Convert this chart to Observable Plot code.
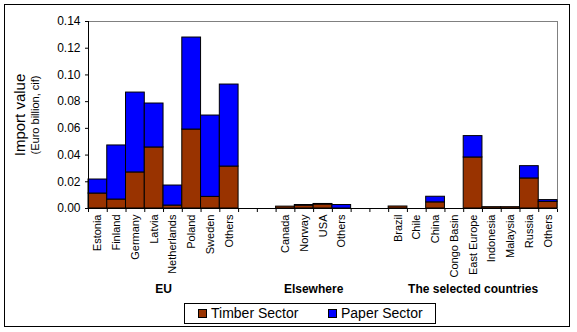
<!DOCTYPE html>
<html>
<head>
<meta charset="utf-8">
<script src="https://cdn.jsdelivr.net/npm/d3@7"></script>
<script src="https://cdn.jsdelivr.net/npm/@observablehq/plot@0.6"></script>
<style>
  html, body { margin: 0; padding: 0; background: #fff; }
  #wrap { position: relative; width: 577px; height: 332px; font-family: "Liberation Sans", Arial, sans-serif; overflow: hidden; }
  #border { position: absolute; left: 4px; top: 4px; width: 566px; height: 323px; border: 1.5px solid #000; box-sizing: border-box; }
  #chart { position: absolute; left: 0; top: 0; }
  #legend { position: absolute; left: 184px; top: 303px; width: 252px; height: 21px; border: 1px solid #000; box-sizing: border-box; font-size: 14px; }
  .item { position: absolute; top: 1px; line-height: 17px; }
  .sw { display: inline-block; width: 9px; height: 9px; border: 1px solid #000; box-sizing: border-box; margin-right: 4px; vertical-align: 0px; }
</style>
</head>
<body>
<div id="wrap">
  <div id="border"></div>
  <div id="chart"></div>
  <div id="legend"></div>
</div>
<script>
// Categories (empty strings are the gaps between groups)
const categories = ["Estonia","Finland","Germany","Latvia","Netherlands","Poland","Sweden","Others","","","Canada","Norway","USA","Others","","","Brazil","Chile","China","Congo Basin","East Europe","Indonesia","Malaysia","Russia","Others"];
const timber = [0.0112,0.0067,0.0270,0.0457,0.0022,0.0591,0.0087,0.0314,0,0,0.0014,0.0022,0.0030,0,0,0,0.0015,0,0.0046,0,0.0382,0.0010,0.0010,0.0225,0.0050];
const paper  = [0.0105,0.0405,0.0598,0.0329,0.0150,0.0689,0.0609,0.0614,0,0,0,0.0004,0.0004,0.0026,0,0,0,0,0.0042,0,0.0160,0,0,0.0092,0.0013];
const groups = ["EU","Elsewhere","The selected countries"];
const groupStart = [0,10,16];
const groupEnd = [8,14,25];
const sectors = ["Timber Sector","Paper Sector"];
const colors = ["#993300","#0000ff"];
const yTicks = [0,0.02,0.04,0.06,0.08,0.10,0.12,0.14];

const rows = [];
categories.forEach((c,i) => {
  if (timber[i] > 0) rows.push({i, cat: c, sector: sectors[0], value: timber[i]});
  if (paper[i] > 0) rows.push({i, cat: c, sector: sectors[1], value: paper[i]});
});
const labels = categories.map((c,i) => ({i, c})).filter(d => d.c !== "");
const grp = groups.map((g,k) => ({g, mid: (groupStart[k] + groupEnd[k]) / 2}));
const bounds = d3.range(categories.length + 1);

const font = "Liberation Sans, Arial, sans-serif";
const chart = Plot.plot({
  width: 577,
  height: 300,
  marginLeft: 88,
  marginRight: 20,
  marginTop: 21,
  marginBottom: 92,
  style: {fontFamily: font, fontSize: "12px", color: "#000", background: "transparent"},
  x: {domain: [0, categories.length], ticks: bounds, tickFormat: () => "", tickSize: 4, label: null},
  y: {domain: [0, 0.14], ticks: yTicks, tickFormat: d3.format(".2f"), tickSize: 3, tickPadding: 5, label: null},
  color: {domain: sectors, range: colors},
  marks: [
    Plot.frame({stroke: "#808080"}),
    Plot.rectY(rows, Plot.stackY({x1: "i", x2: d => d.i + 1, y: "value", fill: "sector", stroke: "#000", strokeWidth: 1})),
    Plot.ruleY([0], {stroke: "#000"}),
    Plot.ruleX([0], {stroke: "#000"}),
    Plot.text(labels, {x: d => d.i + 0.5, y: 0, text: "c", rotate: -90, textAnchor: "end", dy: 6, fontSize: 11}),
    Plot.text(grp, {x: "mid", y: 0, text: "g", dy: 81, fontSize: 12, fontWeight: "bold"}),
    Plot.text(["Import value"], {frameAnchor: "left", text: d => d, rotate: -90, textAnchor: "middle", dx: -68, fontSize: 15}),
    Plot.text(["(Euro billion, cif)"], {frameAnchor: "left", text: d => d, rotate: -90, textAnchor: "middle", dx: -53, fontSize: 11})
  ]
});
document.getElementById("chart").appendChild(chart);

const legend = document.getElementById("legend");
const pos = [13, 143];
sectors.forEach((s,k) => {
  const it = document.createElement("div");
  it.className = "item";
  it.style.left = pos[k] + "px";
  it.innerHTML = `<span class="sw" style="background:${colors[k]}"></span>${s}`;
  legend.appendChild(it);
});
</script>
</body>
</html>
